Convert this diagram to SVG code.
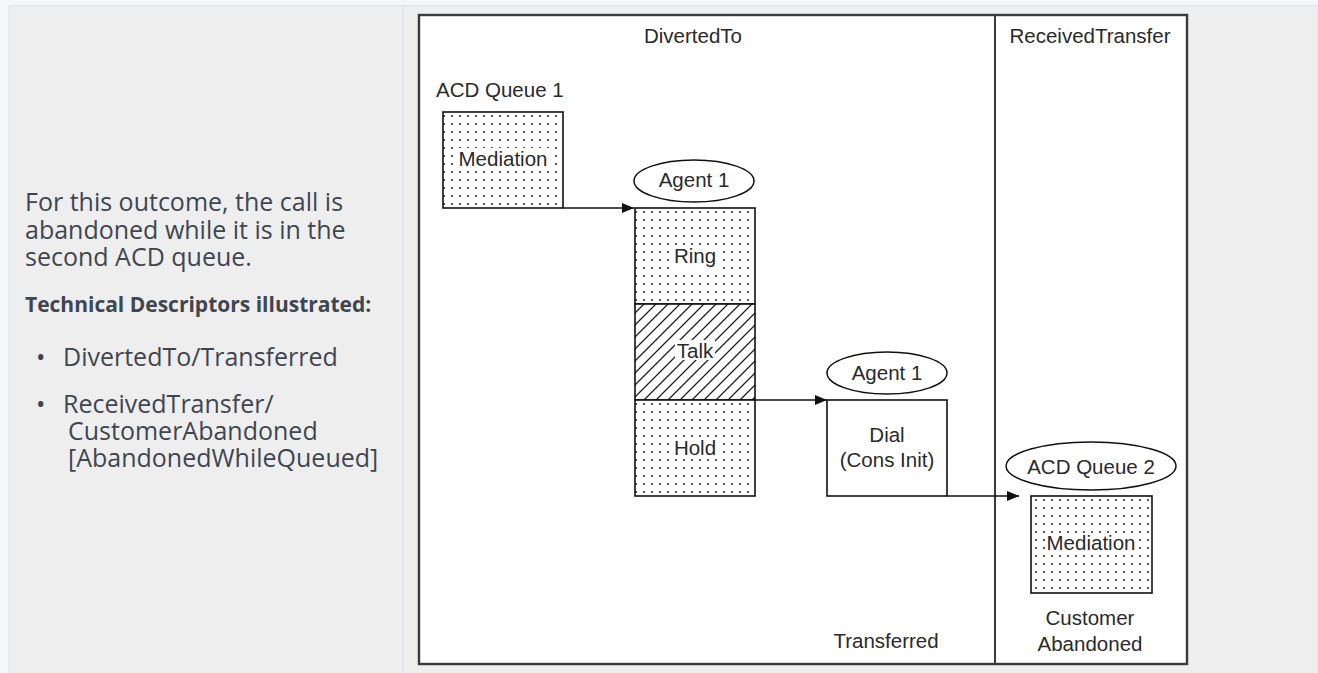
<svg xmlns="http://www.w3.org/2000/svg" width="1318" height="673" viewBox="0 0 1318 673">
<defs>
<style>
.side{font-family:"Open Sans","Noto Sans",sans-serif;fill:#3f4650;font-size:25px}
.sideb{font-family:"Open Sans","Noto Sans",sans-serif;fill:#3f4650;font-size:21px;font-weight:bold}
.t{font-family:"Liberation Sans",Arial,sans-serif;font-size:20.5px;fill:#2a2a2a;text-anchor:middle}
.tl{font-family:"Liberation Sans",Arial,sans-serif;font-size:20.5px;fill:#2a2a2a}
.box{stroke:#111;stroke-width:1.6}
.halo{fill:#fff}
.conn{stroke:#111;stroke-width:1.6;fill:none}
.ell{fill:#fff;stroke:#111;stroke-width:1.5}
</style>
<pattern id="dots" patternUnits="userSpaceOnUse" width="8" height="8">
<rect width="8" height="8" fill="#fff"/>
<circle cx="4" cy="4" r="1" fill="#222"/>
</pattern>
<pattern id="hatch" patternUnits="userSpaceOnUse" width="12" height="12">
<rect width="12" height="12" fill="#fff"/>
<path d="M-3,3 L3,-3 M0,12 L12,0 M9,15 L15,9" stroke="#222" stroke-width="1.3"/>
</pattern>
<marker id="arr" markerWidth="12" markerHeight="10" refX="12" refY="5" orient="auto" markerUnits="userSpaceOnUse">
<path d="M0,0 L12,5 L0,10 Z" fill="#111"/>
</marker>
</defs>

<!-- page background -->
<rect x="0" y="0" width="1318" height="673" fill="#f6f7f8"/>
<rect x="9" y="5.5" width="1309" height="668" fill="#eeeeee" stroke="#e0e5ec" stroke-width="1.2"/>
<line x1="403" y1="6" x2="403" y2="673" stroke="#e0e5ec" stroke-width="1.5"/>

<!-- left description -->
<g id="description">
<text class="side" x="25" y="211">For this outcome, the call is</text>
<text class="side" x="25" y="238.5">abandoned while it is in the</text>
<text class="side" x="25" y="266">second ACD queue.</text>
<text class="sideb" x="25" y="312">Technical Descriptors illustrated:</text>
<text class="side" x="36" y="366">•</text>
<text class="side" x="63" y="366">DivertedTo/Transferred</text>
<text class="side" x="36" y="413">•</text>
<text class="side" x="63" y="413">ReceivedTransfer/</text>
<text class="side" x="68" y="440">CustomerAbandoned</text>
<text class="side" x="68" y="467">[AbandonedWhileQueued]</text>
</g>

<!-- diagram frame -->
<g id="frame">
<rect x="419" y="15" width="768" height="649" fill="#fff" stroke="#3a3a3a" stroke-width="2.4"/>
<line x1="995" y1="15" x2="995" y2="664" stroke="#3a3a3a" stroke-width="2"/>
<text class="t" x="693" y="43">DivertedTo</text>
<text class="t" x="1090" y="43">ReceivedTransfer</text>
<text class="t" x="886" y="648">Transferred</text>
</g>

<g id="connectors">
<line class="conn" x1="563" y1="208" x2="634" y2="208" marker-end="url(#arr)"/>
<line class="conn" x1="755" y1="400" x2="827" y2="400" marker-end="url(#arr)"/>
<line class="conn" x1="947" y1="496" x2="1019" y2="496" marker-end="url(#arr)"/>
</g>

<g id="acd-queue-1">
<text class="tl" x="436" y="97">ACD Queue 1</text>
<rect class="box" x="443" y="112" width="120" height="96" fill="url(#dots)"/>
<rect class="halo" x="457" y="148" width="92" height="22"/>
<text class="t" x="503" y="166">Mediation</text>
</g>

<g id="agent1-label">
<ellipse class="ell" cx="694" cy="181" rx="60" ry="21"/>
<text class="t" x="694" y="187">Agent 1</text>
</g>

<g id="ring">
<rect class="box" x="635" y="208" width="120" height="96" fill="url(#dots)"/>
<rect class="halo" x="673" y="245" width="44" height="24"/>
<text class="t" x="695" y="263">Ring</text>
</g>

<g id="talk">
<rect class="box" x="635" y="304" width="120" height="96" fill="url(#hatch)"/>
<rect class="halo" x="675" y="340" width="40" height="20"/>
<text class="t" x="695" y="358">Talk</text>
</g>

<g id="hold">
<rect class="box" x="635" y="400" width="120" height="96" fill="url(#dots)"/>
<rect class="halo" x="673" y="437" width="44" height="20"/>
<text class="t" x="695" y="455">Hold</text>
</g>

<g id="agent1-label-2">
<ellipse class="ell" cx="887" cy="373" rx="60" ry="21"/>
<text class="t" x="887" y="380">Agent 1</text>
</g>

<g id="dial">
<rect class="box" x="827" y="400" width="120" height="96" fill="#fff"/>
<text class="t" x="887" y="442">Dial</text>
<text class="t" x="887" y="467">(Cons Init)</text>
</g>

<g id="acd-queue-2">
<ellipse class="ell" cx="1091" cy="466" rx="85" ry="24"/>
<text class="t" x="1091" y="474">ACD Queue 2</text>
</g>

<g id="mediation-2">
<rect class="box" x="1031" y="496" width="121" height="97" fill="url(#dots)"/>
<rect class="halo" x="1045" y="533" width="93" height="21"/>
<text class="t" x="1091" y="550">Mediation</text>
</g>

<g id="customer-abandoned">
<text class="t" x="1090" y="625">Customer</text>
<text class="t" x="1090" y="651">Abandoned</text>
</g>
</svg>
